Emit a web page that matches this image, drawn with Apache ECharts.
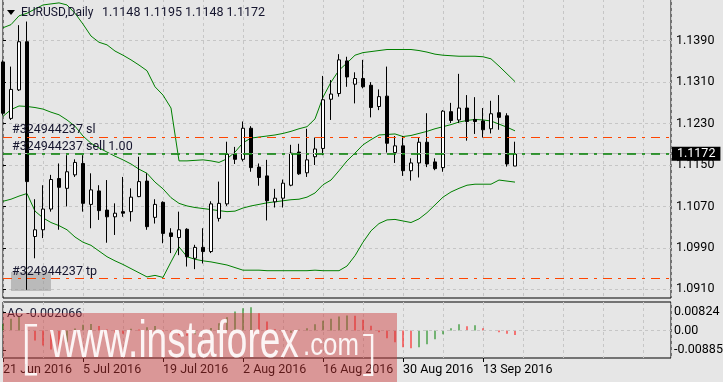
<!DOCTYPE html>
<html><head><meta charset="utf-8">
<script src="https://cdn.jsdelivr.net/npm/echarts@6/dist/echarts.min.js"></script>
<style>html,body{margin:0;padding:0;background:#e6e6e6;}#c{width:723px;height:382px;}</style>
</head><body><div id="c"></div>
<script>
// ---------- DATA ----------
const dates = ['2016-06-21','2016-06-22','2016-06-23','2016-06-24','2016-06-27','2016-06-28','2016-06-29','2016-06-30',
'2016-07-01','2016-07-04','2016-07-05','2016-07-06','2016-07-07','2016-07-08','2016-07-11','2016-07-12','2016-07-13','2016-07-14','2016-07-15','2016-07-18','2016-07-19','2016-07-20','2016-07-21','2016-07-22','2016-07-25','2016-07-26','2016-07-27','2016-07-28','2016-07-29',
'2016-08-01','2016-08-02','2016-08-03','2016-08-04','2016-08-05','2016-08-08','2016-08-09','2016-08-10','2016-08-11','2016-08-12','2016-08-15','2016-08-16','2016-08-17','2016-08-18','2016-08-19','2016-08-22','2016-08-23','2016-08-24','2016-08-25','2016-08-26','2016-08-29','2016-08-30','2016-08-31',
'2016-09-01','2016-09-02','2016-09-05','2016-09-06','2016-09-07','2016-09-08','2016-09-09','2016-09-12','2016-09-13','2016-09-14','2016-09-15','2016-09-16','2016-09-19'];
const open  = [1.1349,1.1240,1.1295,1.1388,1.1012,1.1025,1.1065,1.1124,1.1105,1.1131,1.1153,1.1074,1.1100,1.1063,1.1050,1.1060,1.1060,1.1089,1.1119,1.1049,1.1078,1.1019,1.1010,1.1026,1.0970,1.0991,1.0983,1.1047,1.1075,1.1171,1.1161,1.1221,1.1146,1.1129,1.1079,1.1086,1.1111,1.1175,1.1135,1.1166,1.1182,1.1277,1.1288,1.1351,1.1306,1.1317,1.1304,1.1263,1.1283,1.1174,1.1187,1.1139,1.1154,1.1194,1.1156,1.1145,1.1253,1.1237,1.1260,1.1238,1.1235,1.1220,1.1251,1.1245,1.1148];
const high  = [1.1352,1.1340,1.1420,1.1427,1.1084,1.1111,1.1131,1.1153,1.1169,1.1161,1.1169,1.1134,1.1111,1.1121,1.1076,1.1127,1.1105,1.1166,1.1134,1.1084,1.1080,1.1028,1.1060,1.1028,1.0996,1.1028,1.1080,1.1118,1.1195,1.1185,1.1234,1.1225,1.1153,1.1160,1.1104,1.1122,1.1189,1.1191,1.1220,1.1203,1.1322,1.1314,1.1364,1.1359,1.1329,1.1353,1.1310,1.1296,1.1340,1.1206,1.1206,1.1163,1.1203,1.1250,1.1163,1.1256,1.1270,1.1326,1.1285,1.1281,1.1260,1.1274,1.1285,1.1250,1.1195];
const low   = [1.1246,1.1237,1.1293,1.0909,1.0970,1.1009,1.1060,1.1025,1.1070,1.1127,1.1060,1.1028,1.1044,1.1000,1.1015,1.1050,1.1041,1.1088,1.1025,1.1037,1.0999,1.0980,1.0976,1.0954,1.0949,1.0960,1.0980,1.1041,1.1071,1.1152,1.1157,1.1137,1.1110,1.1043,1.1068,1.1068,1.1109,1.1131,1.1127,1.1150,1.1169,1.1237,1.1282,1.1301,1.1269,1.1298,1.1242,1.1256,1.1174,1.1154,1.1129,1.1120,1.1126,1.1146,1.1140,1.1137,1.1231,1.1231,1.1197,1.1210,1.1203,1.1211,1.1218,1.1147,1.1148];
const close = [1.1250,1.1296,1.1388,1.1118,1.1025,1.1065,1.1122,1.1107,1.1137,1.1155,1.1076,1.1102,1.1062,1.1050,1.1057,1.1057,1.1088,1.1118,1.1031,1.1074,1.1018,1.1012,1.1025,1.0973,1.0991,1.0983,1.1075,1.1076,1.1171,1.1161,1.1221,1.1145,1.1126,1.1081,1.1086,1.1115,1.1173,1.1133,1.1160,1.1181,1.1276,1.1287,1.1353,1.1320,1.1317,1.1301,1.1261,1.1282,1.1192,1.1187,1.1139,1.1154,1.1194,1.1152,1.1143,1.1254,1.1236,1.1260,1.1234,1.1234,1.1218,1.1249,1.1242,1.1152,1.1172];
const bbUpper  = [1.1415,1.1421,1.1438,1.1443,1.1451,1.1459,1.1461,1.1463,1.1459,1.1443,1.1422,1.1399,1.1387,1.1382,1.1370,1.1362,1.1353,1.1343,1.1332,1.1301,1.1285,1.1260,1.1158,1.1158,1.1159,1.1160,1.1158,1.1155,1.1162,1.1175,1.1193,1.1202,1.1204,1.1206,1.1208,1.1211,1.1215,1.1220,1.1224,1.1239,1.1281,1.1310,1.1333,1.1347,1.1362,1.1367,1.1369,1.1371,1.1373,1.1373,1.1373,1.1373,1.1371,1.1368,1.1364,1.1362,1.1361,1.1360,1.1360,1.1360,1.1359,1.1355,1.1341,1.1326,1.1311];
const bbMiddle = [1.1244,1.1257,1.1264,1.1263,1.1261,1.1258,1.1252,1.1247,1.1237,1.1225,1.1206,1.1192,1.1183,1.1175,1.1167,1.1160,1.1152,1.1142,1.1134,1.1117,1.1104,1.1087,1.1076,1.1071,1.1068,1.1066,1.1064,1.1062,1.1060,1.1061,1.1067,1.1071,1.1074,1.1077,1.1079,1.1081,1.1083,1.1084,1.1088,1.1096,1.1112,1.1121,1.1139,1.1158,1.1173,1.1189,1.1199,1.1208,1.1209,1.1210,1.1205,1.1207,1.1211,1.1215,1.1220,1.1224,1.1228,1.1233,1.1236,1.1238,1.1237,1.1235,1.1229,1.1223,1.1216];
const bbLower  = [1.1080,1.1084,1.1090,1.1095,1.1061,1.1048,1.1039,1.1033,1.1025,1.1011,1.1001,1.0995,1.0984,1.0973,1.0965,1.0958,1.0950,1.0942,1.0934,1.0937,1.0933,1.0963,1.0992,1.0973,1.0968,1.0965,1.0963,1.0960,1.0957,1.0952,1.0947,1.0947,1.0947,1.0946,1.0946,1.0946,1.0946,1.0946,1.0946,1.0947,1.0946,1.0946,1.0946,1.0955,1.0975,1.1001,1.1023,1.1037,1.1044,1.1045,1.1042,1.1039,1.1046,1.1058,1.1073,1.1088,1.1098,1.1105,1.1111,1.1113,1.1113,1.1113,1.1121,1.1119,1.1117];
const acValues = [0.0029,0.0053,0.0061,0.0026,-0.0045,-0.0068,-0.0086,-0.0095,-0.0054,0.0009,0.0026,0.0029,0.0020,0.0005,-0.0012,-0.0015,0.0008,0.0005,0.0015,0.0020,-0.0005,-0.0012,-0.0021,-0.0024,-0.0017,0.0002,0.0011,0.0033,0.0060,0.0086,0.0100,0.0105,0.0078,0.0041,0.0006,-0.0015,-0.0010,0.0003,0.0010,0.0028,0.0044,0.0053,0.0063,0.0068,0.0066,0.0048,0.0021,-0.0008,-0.0035,-0.0053,-0.0075,-0.0080,-0.0075,-0.0062,-0.0039,-0.0017,0.0010,0.0028,0.0019,0.0024,0.0010,0.0001,-0.0008,-0.0015,-0.002066];
const priceTicks = [1.0910,1.0990,1.1070,1.1150,1.1230,1.1310,1.1390];
const acTicks = [-0.00885,0,0.00824];
const dateTickIdx = [0,10,20,30,40,50,60];
const levelSL = 1.1203, levelSell = 1.1171, levelTP = 1.0931, levelBid = 1.1172;
const orderId = '#324944237';
const titleText = 'EURUSD,Daily', ohlcText = '1.1148 1.1195 1.1148 1.1172', acText = 'AC -0.002066';

// ---------- CHART ----------
const MON = ['Jan','Feb','Mar','Apr','May','Jun','Jul','Aug','Sep','Oct','Nov','Dec'];
function fmtDate(s){const p=s.split('-');return (+p[2])+' '+MON[+p[1]-1]+' '+p[0];}
const FONT = 'Roboto';
const TXT = '#15152e';
const chart = echarts.init(document.getElementById('c'), null, {renderer:'canvas'});
const xMax = 83.5;
const gridLine = {show:true, lineStyle:{color:'#c6c6c6', type:[3,3], width:1}};
function xValAxis(grid, extra){
  return Object.assign({type:'value', gridIndex:grid, min:0, max:xMax, interval:5,
    axisLine:{show:false}, axisTick:{show:false}, axisLabel:{show:false}, splitLine:gridLine}, extra||{});
}
chart.setOption({
  animation:false,
  backgroundColor:'#e6e6e6',
  textStyle:{fontFamily:FONT},
  grid:[
    {left:3, top:-1, width:668, height:299, show:true, borderColor:'#000', borderWidth:1, backgroundColor:'transparent', containLabel:false, outerBoundsMode:'none'},
    {left:3, top:302, width:668, height:56, show:true, borderColor:'#000', borderWidth:1, backgroundColor:'transparent', containLabel:false, outerBoundsMode:'none'}
  ],
  xAxis:[
    xValAxis(0),
    xValAxis(1),
    {type:'value', gridIndex:1, min:0, max:xMax, position:'bottom',
      axisLine:{show:false}, splitLine:{show:false},
      axisTick:{show:true, customValues:dateTickIdx, length:4, lineStyle:{color:'#000'}},
      axisLabel:{show:true, customValues:dateTickIdx, formatter:(v)=>dates[v]?fmtDate(dates[v]):'', align:'left', color:'#000', fontSize:12.5, fontFamily:FONT, margin:5}}
  ],
  yAxis:[
    {type:'value', gridIndex:0, position:'right', min:1.08933, max:1.14705,
      axisLine:{show:false},
      axisTick:{show:true, customValues:priceTicks, length:3, lineStyle:{color:'#000'}},
      axisLabel:{customValues:priceTicks, formatter:(v)=>v.toFixed(4), color:'#000', fontSize:12.5, fontFamily:FONT, margin:5},
      splitLine:gridLine},
    {type:'value', gridIndex:1, position:'right', min:-0.012375, max:0.012825,
      axisLine:{show:false},
      axisTick:{show:true, customValues:acTicks, length:3, lineStyle:{color:'#000'}},
      axisLabel:{customValues:acTicks, formatter:(v)=> v===0?'0.00':v.toFixed(5), color:'#000', fontSize:12.5, fontFamily:FONT, margin:3},
      splitLine:{show:false}}
  ],
  series:[
    {type:'line', xAxisIndex:0, yAxisIndex:0, data:bbUpper.map((v,i)=>[i,v]), showSymbol:false, symbol:'none', lineStyle:{color:'#008000', width:1}, z:3, silent:true},
    {type:'line', xAxisIndex:0, yAxisIndex:0, data:bbMiddle.map((v,i)=>[i,v]), showSymbol:false, symbol:'none', lineStyle:{color:'#008000', width:1}, z:3, silent:true},
    {type:'line', xAxisIndex:0, yAxisIndex:0, data:bbLower.map((v,i)=>[i,v]), showSymbol:false, symbol:'none', lineStyle:{color:'#008000', width:1}, z:3, silent:true},
    {type:'line', xAxisIndex:0, yAxisIndex:0, data:[], silent:true, z:3,
      markLine:{symbol:'none', silent:true, animation:false, precision:6,
        data:[
          {yAxis:levelBid, lineStyle:{color:'#bdbdbd', type:'solid', width:1},
            label:{show:true, position:'end', formatter:()=>levelBid.toFixed(4), color:'#fff', backgroundColor:'#000', padding:[1,5,0,5], fontSize:12.5, fontFamily:FONT, distance:1}},
          {yAxis:levelSL, lineStyle:{color:'#ff4500', type:[9,6,3,6], width:1},
            label:{show:true, position:'insideStartTop', formatter:orderId+' sl', color:TXT, fontSize:12.5, fontFamily:FONT, distance:[9,1]}},
          {yAxis:levelSell, lineStyle:{color:'#008000', type:[9,6,3,6], width:1.5},
            label:{show:true, position:'insideStartTop', formatter:orderId+' sell 1.00', color:TXT, fontSize:12.5, fontFamily:FONT, distance:[9,1]}},
          {yAxis:levelTP, lineStyle:{color:'#ff4500', type:[9,6,3,6], width:1},
            label:{show:true, position:'insideStartTop', formatter:orderId+' tp', color:TXT, fontSize:12.5, fontFamily:FONT, distance:[9,0]}}
        ]}
    },
    {type:'candlestick', xAxisIndex:0, yAxisIndex:0, silent:true, z:4,
      dimensions:['idx','open','close','lowest','highest'],
      encode:{x:'idx', y:['open','close','lowest','highest']},
      data: open.map((o,i)=>[i,o,close[i],low[i],high[i]]),
      barWidth:4,
      itemStyle:{color:'#ffffff', color0:'#000000', borderColor:'#000000', borderColor0:'#000000', borderWidth:1}
    },
    {type:'bar', xAxisIndex:1, yAxisIndex:1, silent:true, barWidth:1,
      data: acValues.map((v,i)=>({value:[i,v], itemStyle:{color:(i===0||v>acValues[i-1])?'#008000':'#ff0000'}})),
      markLine:{symbol:'none', silent:true, animation:false, precision:6,
        data:[{yAxis:0, lineStyle:{color:'#c6c6c6', type:[3,3], width:1}, label:{show:false}}]}
    }
  ],
  graphic:[
    {type:'polygon', shape:{points:[[7,10],[15,10],[11,15]]}, style:{fill:'#000'}, z:50},
    {type:'text', x:21, y:13, style:{text:titleText, fill:TXT, font:'12px Roboto', verticalAlign:'middle'}, z:50},
    {type:'text', x:102, y:13, style:{text:ohlcText, fill:TXT, font:'12.5px Roboto', verticalAlign:'middle'}, z:50},
    {type:'text', x:7, y:314, style:{text:acText, fill:TXT, font:'12.5px Roboto', verticalAlign:'middle'}, z:50},
    {type:'rect', shape:{x:11, y:272, width:40, height:19}, style:{fill:'rgba(150,150,150,0.55)'}, z:1},
    {type:'rect', shape:{x:3, y:313, width:394, height:69}, style:{fill:'rgba(205,55,55,0.45)'}, z:100},
    {type:'text', x:20, y:320, style:{text:'[', fill:'rgba(255,255,255,0.9)', font:'300 58px "Open Sans"', verticalAlign:'top'}, z:101},
    {type:'text', x:50, y:368, scaleY:1.38, style:{text:'www.instaforex', fill:'rgba(255,255,255,0.9)', font:'37px "Liberation Sans"', verticalAlign:'bottom'}, z:101},
    {type:'text', x:303, y:362, scaleY:1.25, style:{text:'.com', fill:'rgba(255,255,255,0.9)', font:'25.8px "Liberation Sans"', verticalAlign:'bottom'}, z:101},
    {type:'text', x:362, y:330, style:{text:']', fill:'rgba(255,255,255,0.9)', font:'300 48px "Open Sans"', verticalAlign:'top'}, z:101}
  ]
});
</script></body></html>
